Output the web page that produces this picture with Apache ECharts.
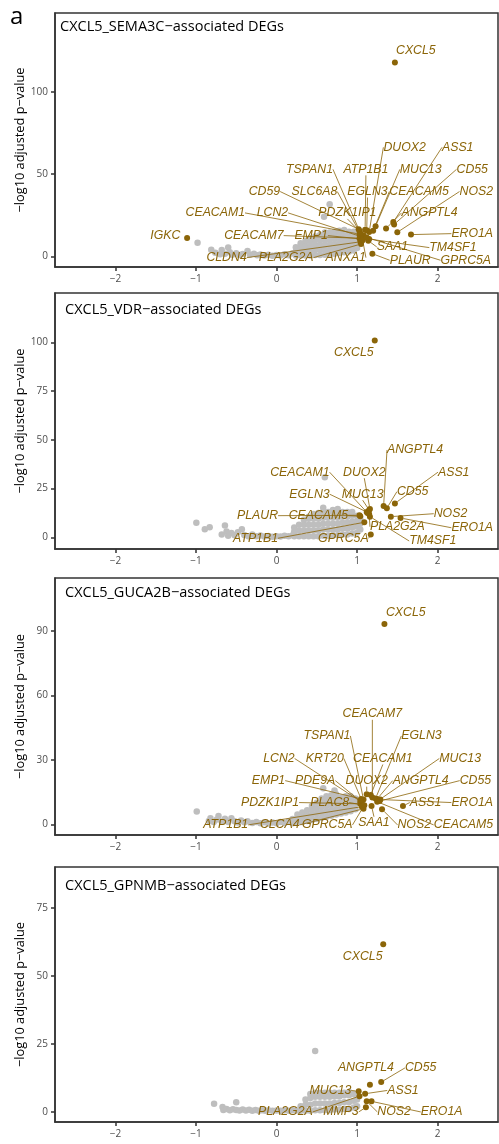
<!DOCTYPE html>
<html><head><meta charset="utf-8">
<script src="https://cdn.jsdelivr.net/npm/echarts@6/dist/echarts.min.js"></script>
<style>html,body{margin:0;padding:0;background:#fff}#c{width:499px;height:1144px}</style>
</head><body><div id="c"></div>
<script>
// ---------- data ----------
const panelTitles = ['CXCL5_SEMA3C\u2212associated DEGs','CXCL5_VDR\u2212associated DEGs','CXCL5_GUCA2B\u2212associated DEGs','CXCL5_GPNMB\u2212associated DEGs'];
const xTicks = [-2,-1,0,1,2];
const yTicks1 = [0,50,100];
const yTicks2 = [0,25,50,75,100];
const yTicks3 = [0,30,60,90];
const yTicks4 = [0,25,50,75];

// Panel 1 (SEMA3C)
const genes1 = ['CXCL5','IGKC','ERO1A','NOS2','CD55','ASS1','ANGPTL4','MUC13','DUOX2','CEACAM5','EGLN3','ATP1B1','PDZK1IP1','TSPAN1','SLC6A8','CD59','LCN2','CEACAM1','CEACAM7','EMP1','CLDN4','PLA2G2A','ANXA1','SAA1','PLAUR','TM4SF1','GPRC5A'];
const logFC1 = [1.47,-1.11,1.67,1.50,1.46,1.45,1.36,1.23,1.15,1.20,1.12,1.10,1.08,1.03,1.04,1.02,1.05,1.03,1.03,1.06,1.04,1.05,1.07,1.14,1.19,1.15,1.12];
const logP1 = [117.9,11.2,13.2,14.6,19.4,20.8,16.9,18.3,14.8,15.5,15.8,16.2,12.8,15.5,14.0,16.5,12.0,13.5,11.0,10.5,8.8,7.5,9.8,9.5,1.6,10.5,11.5];
const other1 = [[-0.98,8.2],[-0.81,4.0],[-0.76,2.2],[-0.7,1.2],[-0.68,3.8],[-0.64,1.5],[-0.6,5.4],[-0.58,2.4],[-0.55,1.0],[-0.5,1.8],[-0.46,0.8],[-0.42,1.4],[-0.36,3.2],[-0.33,0.9],[-0.28,1.6],[-0.24,0.6],[-0.2,1.1],[-0.15,0.5],[-0.1,1.0],[-0.05,0.4],[0.0,0.8],[0.05,0.5],[0.1,1.2],[0.15,0.6],[0.2,1.8],
 [0.24,0.5],[0.24,3],[0.24,5.5],[0.30,0.5],[0.30,3.5],[0.30,6.5],[0.30,8],[0.36,0.5],[0.36,3.5],[0.36,6.5],[0.36,9.5],[0.42,0.5],[0.42,3.5],[0.42,6.5],[0.42,9.5],[0.42,11],
 [0.48,0.8],[0.48,4],[0.48,7],[0.48,10],[0.48,12],[0.54,0.8],[0.54,4],[0.54,7],[0.54,10],[0.54,13],[0.60,1],[0.60,4],[0.60,7],[0.60,10],[0.60,13],[0.60,14.5],[0.59,24],
 [0.66,1.2],[0.66,4],[0.66,7],[0.66,10],[0.66,13],[0.66,14.5],[0.66,31.7],[0.72,1.5],[0.72,4.5],[0.72,7.5],[0.72,10.5],[0.72,13.5],[0.72,15],[0.78,2],[0.78,5],[0.78,8],[0.78,11],[0.78,14],[0.78,15.5],
 [0.84,2.5],[0.84,5.5],[0.84,8.5],[0.84,11.5],[0.84,14.5],[0.84,16],[0.90,3],[0.90,6],[0.90,9],[0.90,12],[0.90,15],[0.96,3.5],[0.96,6.5],[0.96,9.5],[0.96,12.5],[0.96,15],[1.0,5],[1.0,8],[1.0,11],[1.0,13.5]];
const labX1 = [1.73,-1.38,2.43,2.48,2.43,2.25,1.90,1.79,1.59,1.77,1.13,1.11,0.88,0.41,0.47,-0.15,-0.05,-0.76,-0.28,0.43,-0.62,0.12,0.86,1.44,1.66,2.19,2.35];
const labY1 = [125.2,12.6,13.8,39.4,52.9,66.3,26.4,52.9,66.3,39.4,39.4,52.9,26.4,52.9,39.4,39.4,26.4,26.4,12.6,12.6,-0.8,-0.8,-0.8,5.7,-2.4,5.3,-2.4];

// Panel 2 (VDR)
const genes2 = ['CXCL5','ANGPTL4','ASS1','CD55','NOS2','ERO1A','TM4SF1','PLA2G2A','GPRC5A','ATP1B1','CEACAM5','PLAUR','EGLN3','MUC13','DUOX2','CEACAM1'];
const logFC2 = [1.22,1.33,1.47,1.37,1.42,1.54,1.16,1.15,1.17,1.09,1.04,1.03,1.12,1.15,1.16,1.13];
const logP2 = [100.9,16.1,17.4,14.9,10.6,9.9,10.6,12.0,1.5,7.7,10.8,11.3,13.0,14.0,14.5,12.5];
const other2 = [[-0.995,7.5],[-0.89,4.1],[-0.83,5.1],[-0.68,1.5],[-0.64,6.0],[-0.62,3.0],[-0.6,0.8],[-0.56,2.2],[-0.52,1.0],[-0.48,2.6],[-0.43,4.1],[-0.4,1.2],[-0.35,0.6],[-0.3,1.4],[-0.25,0.5],[-0.2,0.9],[-0.15,0.4],[-0.1,0.7],[-0.05,0.3],[0.0,0.6],[0.05,0.4],[0.1,0.8],[0.15,0.5],[0.2,1.0],
 [0.22,0.5],[0.22,3],[0.22,5],[0.28,0.5],[0.28,3.5],[0.28,6.5],[0.34,0.5],[0.34,3.5],[0.34,6.5],[0.34,9],[0.40,0.5],[0.40,3.5],[0.40,6.5],[0.40,9.5],[0.40,10.5],[0.46,0.5],[0.46,3.5],[0.46,6.5],[0.46,9.5],[0.46,12],
 [0.52,0.5],[0.52,3.5],[0.52,6.5],[0.52,9.5],[0.52,12.5],[0.58,0.8],[0.58,4],[0.58,7],[0.58,10],[0.58,13],[0.58,15.2],[0.60,30.8],[0.64,0.8],[0.64,4],[0.64,7],[0.64,10],[0.64,13],
 [0.70,1],[0.70,4],[0.70,7],[0.70,10],[0.70,13],[0.70,14],[0.76,1],[0.76,4],[0.76,7],[0.76,10],[0.76,13],[0.76,14.5],[0.82,1.5],[0.82,4.5],[0.82,7.5],[0.82,10.5],[0.82,13],
 [0.88,1.5],[0.88,4.5],[0.88,7.5],[0.88,10.5],[0.88,13],[0.94,2],[0.94,5],[0.94,8],[0.94,11],[0.94,13],[1.0,2.5],[1.0,5.5],[1.0,8.5],[1.0,11],[1.04,4],[1.04,7],[1.04,9.5]];
const labX2 = [0.96,1.72,2.20,1.69,2.16,2.43,1.94,1.50,0.83,-0.26,0.52,-0.235,0.41,1.07,1.09,0.29];
const labY2 = [94.5,44.8,33.4,23.4,12.1,4.9,-1.9,5.4,-0.5,-0.5,11.1,11.1,22.1,22.1,33.4,33.4];

// Panel 3 (GUCA2B)
const genes3 = ['CXCL5','CEACAM7','TSPAN1','EGLN3','LCN2','KRT20','CEACAM1','MUC13','EMP1','PDE9A','DUOX2','ANGPTL4','CD55','PDZK1IP1','PLAC8','ASS1','ERO1A','SAA1','ATP1B1','CLCA4','GPRC5A','NOS2','CEACAM5'];
const logFC3 = [1.34,1.19,1.08,1.23,1.05,1.06,1.17,1.27,1.05,1.04,1.12,1.25,1.28,1.04,1.07,1.57,1.29,1.18,1.06,1.08,1.09,1.31,1.25];
const logP3 = [93.2,12.5,11.5,12.0,10.5,11.0,13.6,11.2,11.8,10.8,14.0,11.8,10.8,9.5,9.0,8.5,11.5,8.5,8.2,7.2,8.8,7.0,10.5];
const other3 = [[-0.99,5.9],[-0.84,1.5],[-0.82,2.8],[-0.78,1.0],[-0.74,2.2],[-0.72,3.9],[-0.68,1.3],[-0.64,2.6],[-0.6,1.0],[-0.56,2.8],[-0.52,1.4],[-0.48,0.8],[-0.44,1.8],[-0.4,0.9],[-0.36,1.4],[-0.3,0.6],[-0.25,1.1],[-0.2,0.5],[-0.15,0.9],[-0.1,0.4],[-0.05,0.8],[0.0,0.5],[0.05,1.0],[0.1,0.6],[0.15,1.4],
 [0.20,0.5],[0.20,2.5],[0.26,0.8],[0.26,3],[0.26,4.5],[0.32,1],[0.32,3.5],[0.32,5.5],[0.38,1.5],[0.38,4],[0.38,6.5],[0.44,2],[0.44,4.5],[0.44,7],[0.44,8.5],
 [0.50,2.5],[0.50,5],[0.50,7.5],[0.50,10],[0.56,3],[0.56,5.5],[0.56,8],[0.56,10.5],[0.56,12],[0.58,16.8],[0.62,3.5],[0.62,6],[0.62,8.5],[0.62,11],[0.62,13],
 [0.68,4],[0.68,6.5],[0.68,9],[0.68,11.5],[0.68,13.5],[0.72,15.7],[0.74,4.5],[0.74,7],[0.74,9.5],[0.74,12],[0.74,14],[0.80,5],[0.80,7.5],[0.80,10],[0.80,12.5],
 [0.86,5.5],[0.86,8],[0.86,10.5],[0.86,13],[0.92,6],[0.92,8.5],[0.92,11],[0.92,13],[0.98,7],[0.98,9.5],[0.98,12]];
const labX3 = [1.605,1.19,0.626,1.80,0.03,0.60,1.32,2.28,-0.10,0.48,1.12,1.79,2.47,-0.08,0.66,1.85,2.43,1.21,-0.63,0.04,0.63,1.71,2.32];
const labY3 = [98.6,51.4,41.1,41.1,30.6,30.6,30.6,30.6,20.3,20.3,20.3,20.3,20.3,10.1,10.1,10.1,10.1,0.7,-0.3,-0.3,-0.3,-0.3,-0.3];

// Panel 4 (GPNMB)
const genes4 = ['CXCL5','CD55','ANGPTL4','ASS1','MUC13','PLA2G2A','MMP3','NOS2','ERO1A'];
const logFC4 = [1.325,1.30,1.16,1.10,1.02,1.03,1.11,1.12,1.18];
const logP4 = [61.6,10.9,9.9,6.6,7.5,5.7,1.6,3.8,3.8];
const other4 = [[-0.775,2.9],[-0.67,1.7],[-0.66,0.6],[-0.62,1.0],[-0.58,0.5],[-0.54,0.9],[-0.5,3.5],[-0.5,0.6],[-0.46,0.4],[-0.42,0.8],[-0.38,0.4],[-0.34,0.7],[-0.3,0.3],[-0.26,0.6],[-0.22,0.3],[-0.18,0.5],[-0.14,0.3],[-0.1,0.5],[-0.05,0.3],[0.0,0.4],[0.05,0.3],[0.1,0.5],[0.15,0.3],[0.2,0.5],[0.25,0.4],
 [0.30,0.3],[0.30,2],[0.36,0.3],[0.36,2.5],[0.36,4.5],[0.42,0.3],[0.42,2.5],[0.42,5],[0.42,6.5],[0.48,0.5],[0.48,3],[0.48,5.5],[0.48,7],[0.48,22.3],[0.54,0.5],[0.54,3],[0.54,5.5],[0.54,7],
 [0.60,0.5],[0.60,3],[0.60,5.5],[0.60,7],[0.66,0.5],[0.66,3],[0.66,5.5],[0.66,7],[0.72,0.8],[0.72,3.2],[0.72,5.6],[0.72,7],[0.78,0.8],[0.78,3.2],[0.78,5.6],[0.78,7],
 [0.84,1],[0.84,3.5],[0.84,6],[0.84,7],[0.90,1],[0.90,3.5],[0.90,6],[0.90,7.2],[0.96,1.5],[0.96,4],[0.96,6.5],[1.0,2],[1.0,4.5],[1.0,6.5]];
const labX4 = [1.07,1.79,1.11,1.57,0.67,0.11,0.80,1.46,2.05];
const labY4 = [56.9,16.1,16.1,7.8,7.8,-0.1,-0.1,-0.1,-0.1];

// labels drawn without a connector (too close to their point)
const noLine = [['CXCL5','IGKC'],['CXCL5'],['CXCL5'],['CXCL5','ANGPTL4']];

// ---------- chart ----------
const chart = echarts.init(document.getElementById('c'), null, {renderer:'canvas'});
const GOLD = '#8B6508', GREY = '#BEBEBE', DARK = '#333333';
const TICKFONT = "'Open Sans'";
const panels = [
  {genes:genes1, fc:logFC1, p:logP1, other:other1, lx:labX1, ly:labY1, yt:yTicks1, ymin:-6.5, ymax:148, top:13, h:254, tTop:19.5, tLeft:60},
  {genes:genes2, fc:logFC2, p:logP2, other:other2, lx:labX2, ly:labY2, yt:yTicks2, ymin:-6, ymax:125.3, top:293, h:256, tTop:302.5, tLeft:65},
  {genes:genes3, fc:logFC3, p:logP3, other:other3, lx:labX3, ly:labY3, yt:yTicks3, ymin:-5, ymax:114.6, top:578, h:257, tTop:585.5, tLeft:65},
  {genes:genes4, fc:logFC4, p:logP4, other:other4, lx:labX4, ly:labY4, yt:yTicks4, ymin:-3.8, ymax:90, top:867, h:255, tTop:878.5, tLeft:65}
];
const minus = v => String(v).replace('-', '\u2212');
const grids=[], xAxes=[], yAxes=[], series=[];
const titles=[{text:'a', left:10, top:5, padding:0, textStyle:{fontSize:24, fontWeight:'normal', fontFamily:'Open Sans', color:'#000'}}];
panels.forEach((P, gi) => {
  grids.push({left:55, width:443, top:P.top, height:P.h, show:true, borderColor:DARK, borderWidth:1.5, backgroundColor:'transparent'});
  xAxes.push({gridIndex:gi, type:'value', min:-2.75, max:2.75, splitLine:{show:false},
    axisLine:{show:true, onZero:false, lineStyle:{color:DARK, width:1.5}},
    axisTick:{show:true, customValues:xTicks, length:4, lineStyle:{color:DARK, width:1.5}},
    axisLabel:{customValues:xTicks, formatter:minus, color:'#4D4D4D', fontSize:10, fontFamily:TICKFONT, margin:7}});
  yAxes.push({gridIndex:gi, type:'value', min:P.ymin, max:P.ymax, splitLine:{show:false},
    name:'\u2212log10 adjusted p\u2212value', nameLocation:'middle', nameGap:28, nameMoveOverlap:false,
    nameTextStyle:{fontSize:12.8, fontFamily:'Open Sans', color:'#000'},
    axisLine:{show:true, onZero:false, lineStyle:{color:DARK, width:1.5}},
    axisTick:{show:true, customValues:P.yt, length:4, lineStyle:{color:DARK, width:1.5}},
    axisLabel:{customValues:P.yt, formatter:minus, color:'#4D4D4D', fontSize:10, fontFamily:TICKFONT, margin:7}});
  titles.push({text:panelTitles[gi], left:P.tLeft, top:P.tTop, padding:0, textStyle:{fontSize:14.5, fontWeight:'normal', fontFamily:'Open Sans', color:'#000'}});
  series.push({type:'scatter', xAxisIndex:gi, yAxisIndex:gi, silent:true, symbolSize:6.5, z:2,
    itemStyle:{color:GREY, opacity:1}, data:P.other});
  series.push({type:'scatter', xAxisIndex:gi, yAxisIndex:gi, silent:true, symbolSize:6, z:3,
    itemStyle:{color:GOLD, opacity:1},
    data:P.genes.map((g,i)=>({name:g, value:[P.fc[i], P.p[i]], labelLine:{show: noLine[gi].indexOf(g) < 0}})),
    label:{show:true, formatter:'{b}', color:GOLD, fontStyle:'italic', fontFamily:'Liberation Sans', fontSize:12.3},
    labelLine:{show:true, lineStyle:{color:GOLD, width:0.8}},
    labelLayout: function(prm){
      const i = prm.dataIndex;
      const pt = chart.convertToPixel({gridIndex:gi}, [P.lx[i], P.ly[i]]);
      return {x:pt[0], y:pt[1], align:'center', verticalAlign:'middle', hideOverlap:false};
    }});
});
chart.setOption({animation:false, backgroundColor:'#fff', title:titles, grid:grids, xAxis:xAxes, yAxis:yAxes, series:series});
</script></body></html>
